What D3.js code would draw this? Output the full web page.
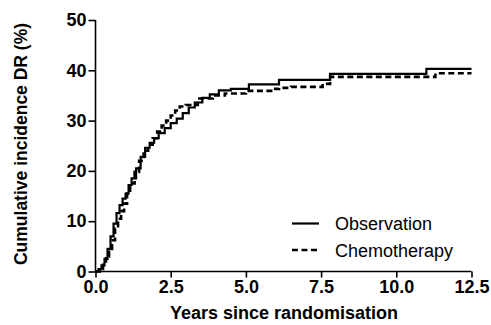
<!DOCTYPE html>
<html>
<head>
<meta charset="utf-8">
<script src="https://cdn.jsdelivr.net/npm/d3@7"></script>
<style>
  body { margin: 0; background: #fff; }
  svg { font-family: "Liberation Sans", Arial, sans-serif; }
</style>
</head>
<body>
<svg id="chart" width="491" height="325"></svg>
<script>
// step points: [years, cumulative incidence %]
var observation = [
  [0, 0], [0.1, 0.5], [0.2, 1.2], [0.3, 2.5], [0.4, 4.5], [0.5, 7], [0.6, 9.5],
  [0.7, 11.6], [0.8, 13.2], [0.9, 14.5], [1.0, 15.5], [1.1, 17.2], [1.2, 18.5],
  [1.35, 20.5], [1.5, 22.8], [1.65, 24.6], [1.8, 25.6], [1.95, 26.5], [2.1, 27.5],
  [2.3, 28.5], [2.5, 29.5], [2.7, 30.4], [2.9, 31.5], [3.1, 32.6], [3.3, 33.6],
  [3.55, 34.5], [3.8, 35.2], [4.1, 36], [4.5, 36.3], [5.1, 37.2], [6.1, 38.1],
  [7.8, 39.3], [11.0, 40.3], [12.5, 40.3]
];
var chemotherapy = [
  [0, 0], [0.15, 0.5], [0.25, 2], [0.35, 3], [0.45, 4.5], [0.55, 6.2], [0.65, 8.5],
  [0.75, 10.5], [0.85, 12], [0.95, 13.5], [1.05, 15.5], [1.15, 17.5], [1.3, 19.8],
  [1.45, 22], [1.6, 24], [1.75, 25.2], [1.9, 26.5], [2.05, 27.8], [2.2, 29],
  [2.35, 30], [2.5, 31], [2.65, 32], [2.8, 32.8], [3.0, 33.1], [3.4, 34.4],
  [3.9, 35], [4.3, 35.4], [5.0, 35.9], [5.9, 36.3], [6.1, 36.5], [6.5, 36.7],
  [7.55, 37.3], [7.8, 38.7], [11.3, 39.4], [12.5, 39.4]
];
var xTicks = [0, 2.5, 5, 7.5, 10, 12.5];
var yTicks = [0, 10, 20, 30, 40, 50];
var seriesNames = ['Observation', 'Chemotherapy'];

var svg = d3.select('#chart');
var x = d3.scaleLinear().domain([0, 12.5]).range([95.5, 471.5]);
var y = d3.scaleLinear().domain([0, 50]).range([271.5, 20]);

var xAxis = svg.append('g')
    .attr('transform', 'translate(0,' + y(0) + ')')
    .call(d3.axisBottom(x).tickValues(xTicks).tickFormat(d3.format('.1f')).tickSize(6).tickPadding(3));
var yAxis = svg.append('g')
    .attr('transform', 'translate(' + x(0) + ',0)')
    .call(d3.axisLeft(y).tickValues(yTicks).tickSize(7).tickPadding(2));

[xAxis, yAxis].forEach(function(g) {
  g.selectAll('path, line').attr('stroke', '#000').attr('stroke-width', 1.6);
  g.selectAll('text').attr('fill', '#000').style('font-size', '18px').style('font-weight', 'bold');
});
xAxis.select('.domain').attr('d', 'M' + x(0) + ',0H' + x(12.5));
yAxis.select('.domain').attr('d', 'M0,' + y(0) + 'V' + y(50));

var line = d3.line()
    .x(function(d) { return x(d[0]); })
    .y(function(d) { return y(d[1]); })
    .curve(d3.curveStepAfter);

svg.append('path')
    .datum(observation)
    .attr('d', line)
    .attr('fill', 'none')
    .attr('stroke', '#000')
    .attr('stroke-width', 2.2);

svg.append('path')
    .datum(chemotherapy)
    .attr('d', line)
    .attr('fill', 'none')
    .attr('stroke', '#000')
    .attr('stroke-width', 2.6)
    .attr('stroke-dasharray', '6,3.5');

// axis titles
svg.append('text')
    .attr('x', 284).attr('y', 319)
    .attr('text-anchor', 'middle')
    .style('font-size', '18px').style('font-weight', 'bold')
    .text('Years since randomisation');

svg.append('text')
    .attr('transform', 'translate(27,144) rotate(-90)')
    .attr('text-anchor', 'middle')
    .style('font-size', '17.5px').style('font-weight', 'bold')
    .text('Cumulative incidence DR (%)');

// legend
var legend = svg.append('g');
seriesNames.forEach(function(name, i) {
  var ly = 223.5 + i * 26.5;
  legend.append('line')
      .attr('x1', 292).attr('x2', 319)
      .attr('y1', ly).attr('y2', ly)
      .attr('stroke', '#000')
      .attr('stroke-width', i === 0 ? 2.2 : 2.6)
      .attr('stroke-dasharray', i === 0 ? null : '6,3.5');
  legend.append('text')
      .attr('x', 335).attr('y', ly + 6.5)
      .style('font-size', '18px')
      .text(name);
});
</script>
</body>
</html>
